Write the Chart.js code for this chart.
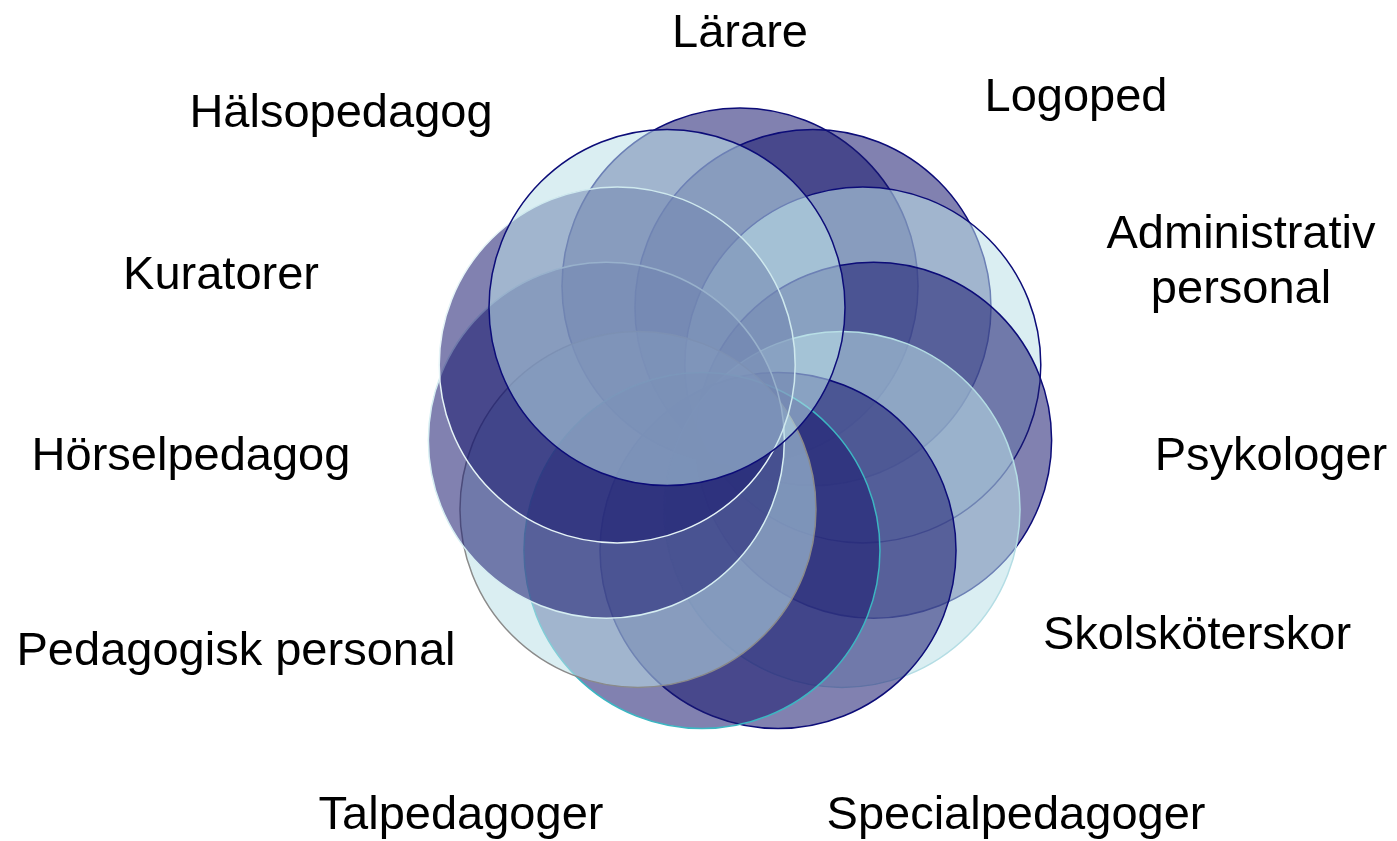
<!DOCTYPE html>
<html>
<head>
<meta charset="utf-8">
<script src="https://cdn.jsdelivr.net/npm/chart.js@4/dist/chart.umd.min.js"></script>
<style>
html,body{margin:0;padding:0;background:#fff;}
#wrap{width:1397px;height:841px;}
</style>
</head>
<body>
<div id="wrap"><canvas id="c" width="1397" height="841"></canvas></div>
<script>
// ---- data ----
const categories = ["Lärare","Logoped","Administrativ personal","Psykologer","Skolsköterskor","Specialpedagoger","Talpedagoger","Pedagogisk personal","Hörselpedagog","Kuratorer","Hälsopedagog"];
const labelLines = [["Lärare"],["Logoped"],["Administrativ","personal"],["Psykologer"],["Skolsköterskor"],["Specialpedagoger"],["Talpedagoger"],["Pedagogisk personal"],["Hörselpedagog"],["Kuratorer"],["Hälsopedagog"]];

// ---- styles / layout (not data) ----
const DARK = 'rgba(25,25,112,0.55)';
const LIGHT = 'rgba(188,224,231,0.55)';
const fillColors = [DARK,DARK,LIGHT,DARK,LIGHT,DARK,DARK,LIGHT,DARK,DARK,LIGHT];
const borderColors = ['#0c0c78','#0c0c78','#0c0c78','#0c0c78','#b4dde4','#0c0c78','#3cb6c2','#8a8a8a','#d6eef2','#e6f4f7','#0c0c78'];
const labelAnchors = [[740,47],[1076,111],[1241,248],[1271,470],[1197,649],[1016,829],[461,829],[236,665],[191,470],[221,289],[341,127]];
const lineGap = 55;

// ring positions (unit circle, one per category, clockwise from top)
const n = categories.length;
const points = categories.map((c,i)=>{
  const a = 2*Math.PI*i/n;
  return {x: Math.sin(a), y: Math.cos(a)};
});

const unit = 135; // px per ring unit
const cx = 740, cy = 421;

const labelPlugin = {
  id:'labels',
  afterDraw(chart){
    const ctx = chart.ctx;
    ctx.save();
    ctx.fillStyle = '#000';
    ctx.font = '47px "Liberation Sans", Arial, sans-serif';
    ctx.textAlign = 'center';
    ctx.textBaseline = 'alphabetic';
    labelLines.forEach((lines,i)=>{
      const [x,y] = labelAnchors[i];
      lines.forEach((t,j)=>ctx.fillText(t,x,y+j*lineGap));
    });
    ctx.restore();
  }
};

const chart = new Chart(document.getElementById('c'),{
  type:'bubble',
  data:{
    labels: categories,
    datasets:[{
      data: points,
      radius: 178,
      backgroundColor: fillColors,
      borderColor: borderColors,
      borderWidth: 1.5,
      clip: false
    }]
  },
  options:{
    responsive:false,
    animation:false,
    events:[],
    layout:{padding:0},
    plugins:{legend:{display:false},tooltip:{enabled:false}},
    scales:{
      x:{type:'linear',display:false,min:-1,max:1},
      y:{type:'linear',display:false,min:-1,max:1}
    }
  },
  plugins:[labelPlugin]
});

// fit the scales to the real chart area so that the ring centre and size land right
function fitScales(){
  const a = chart.chartArea;
  chart.options.scales.x.min = -(cx - a.left)/unit;
  chart.options.scales.x.max = (a.right - cx)/unit;
  chart.options.scales.y.max = (cy - a.top)/unit;
  chart.options.scales.y.min = -(a.bottom - cy)/unit;
  chart.update('none');
}
fitScales();
fitScales();
</script>
</body>
</html>
